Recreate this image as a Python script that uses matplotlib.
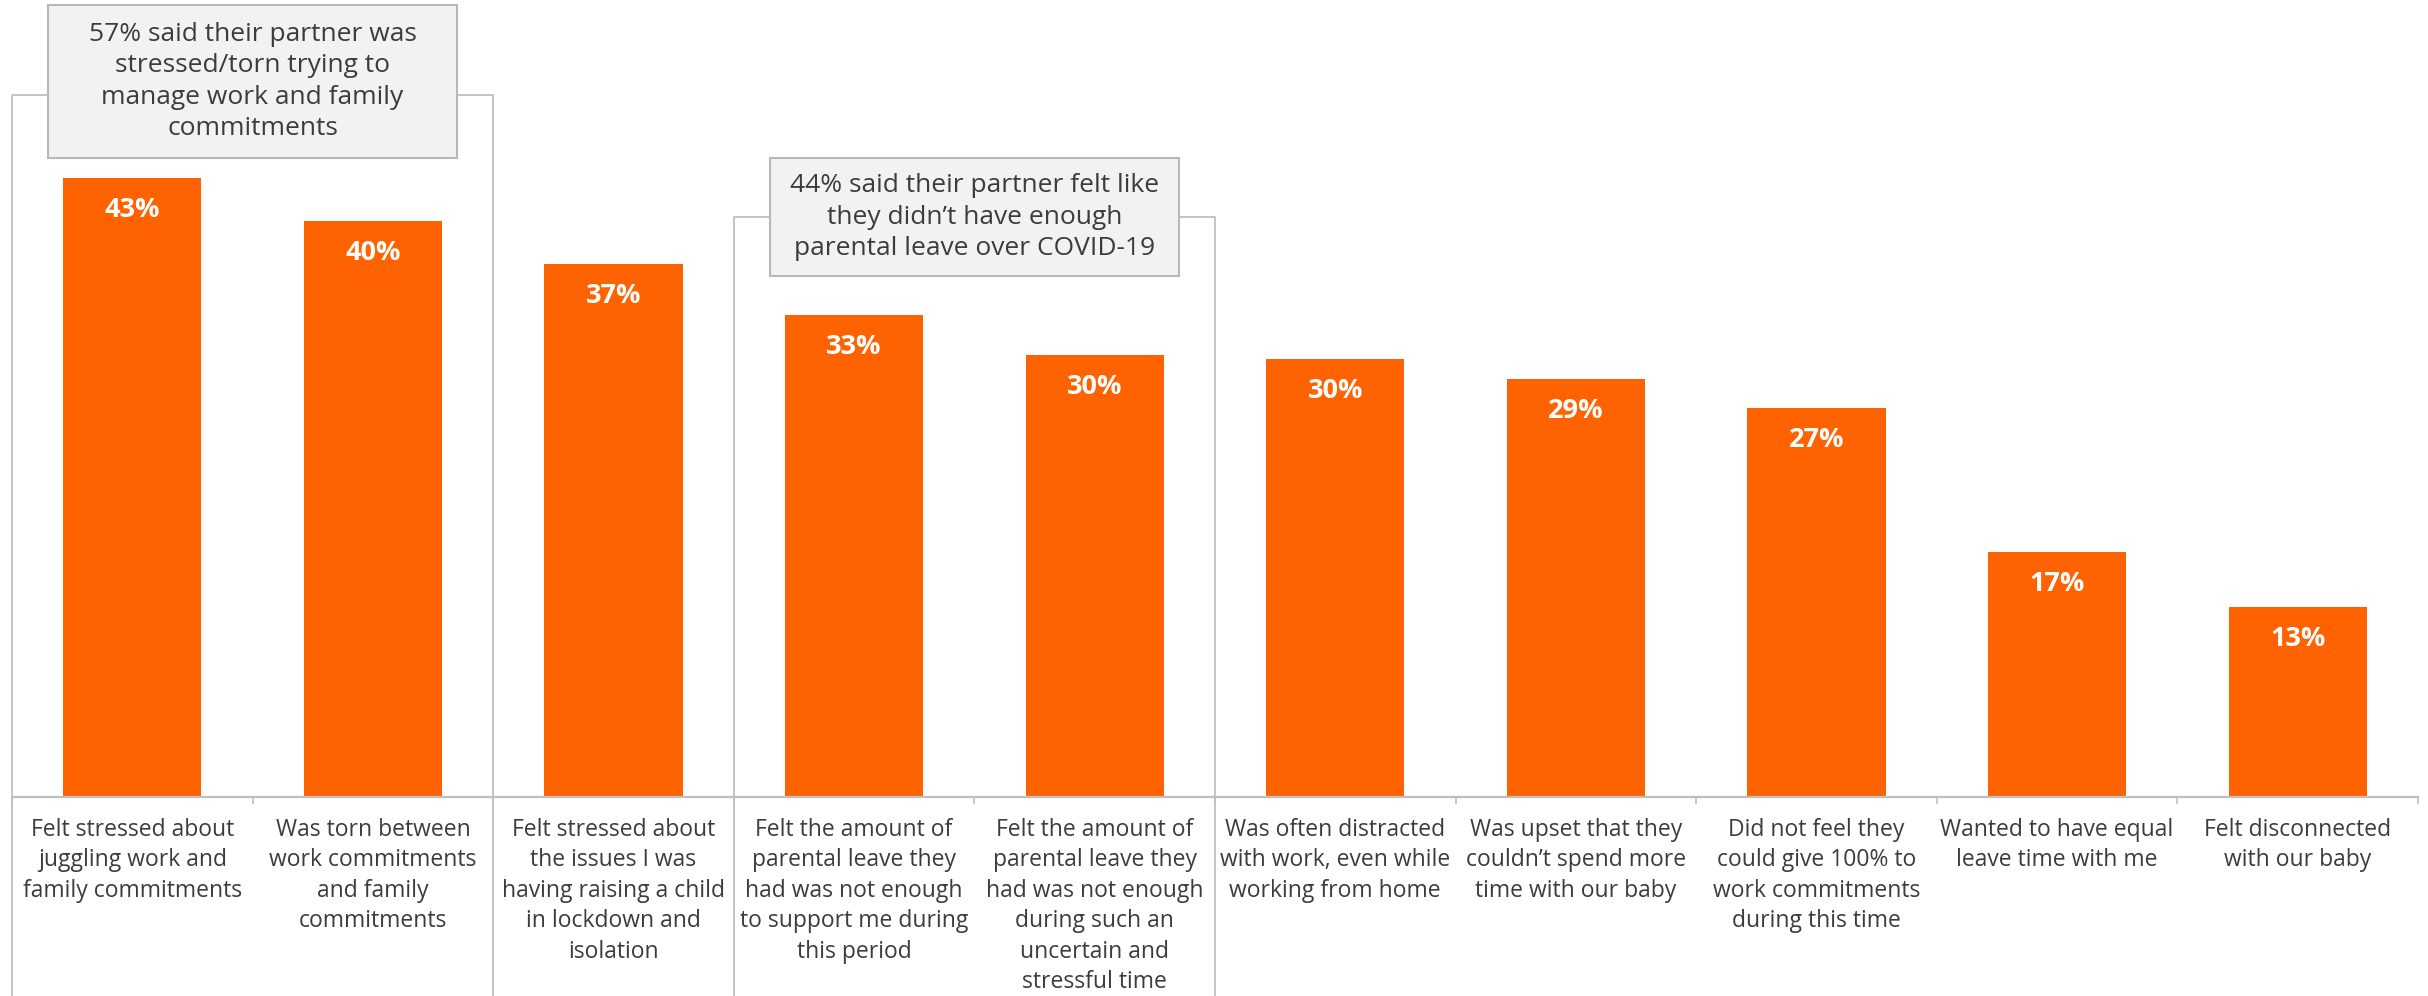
import matplotlib
matplotlib.use("Agg")
import matplotlib.pyplot as plt
from matplotlib.patches import Rectangle
from matplotlib.transforms import blended_transform_factory

plt.rcParams["font.family"] = ["Open Sans", "DejaVu Sans"]

categories = [
    "Felt stressed about\njuggling work and\nfamily commitments",
    "Was torn between\nwork commitments\nand family\ncommitments",
    "Felt stressed about\nthe issues I was\nhaving raising a child\nin lockdown and\nisolation",
    "Felt the amount of\nparental leave they\nhad was not enough\nto support me during\nthis period",
    "Felt the amount of\nparental leave they\nhad was not enough\nduring such an\nuncertain and\nstressful time",
    "Was often distracted\nwith work, even while\nworking from home",
    "Was upset that they\ncouldn\u2019t spend more\ntime with our baby",
    "Did not feel they\ncould give 100% to\nwork commitments\nduring this time",
    "Wanted to have equal\nleave time with me",
    "Felt disconnected\nwith our baby",
]
values = [43, 40, 37, 33.5, 30.7, 30.4, 29, 27, 17, 13.2]
value_labels = ["43%", "40%", "37%", "33%", "30%", "30%", "29%", "27%", "17%", "13%"]

# bracket groups: (first category, last category, callout text)
groups = [
    (0, 1, "57% said their partner was\nstressed/torn trying to\nmanage work and family\ncommitments"),
    (3, 4, "44% said their partner felt like\nthey didn\u2019t have enough\nparental leave over COVID-19"),
]

ORANGE = "#FF6200"
GREY = "#BFBFBF"
TEXT = "#3C3C3C"

W, H = 2428, 996
fig = plt.figure(figsize=(W / 100, H / 100), dpi=100)
ax = fig.add_axes([12 / W, (H - 797) / H, (2418 - 12) / W, 797 / H])

x = list(range(len(values)))
ax.bar(x, values, width=0.574, color=ORANGE, zorder=2)
ax.set_xlim(-0.5, len(values) - 0.5)
ax.set_ylim(0, 797 / 14.4)

for s in ("top", "right", "left"):
    ax.spines[s].set_visible(False)
ax.spines["bottom"].set_color(GREY)
ax.spines["bottom"].set_linewidth(1.6)
ax.set_yticks([])
ax.set_xticks([i - 0.5 for i in range(len(values) + 1)])
ax.set_xticklabels([])
ax.tick_params(axis="x", direction="out", length=5, width=1.2, color=GREY)

for i, (v, lab) in enumerate(zip(values, value_labels)):
    ax.annotate(lab, (i, v), xytext=(0, -23), textcoords="offset points",
                ha="center", va="center", color="white", fontsize=19.5,
                fontweight="bold")

for i, cat in enumerate(categories):
    ax.annotate(cat, (i, 0), xycoords=("data", "axes fraction"),
                xytext=(0, -15), textcoords="offset points",
                ha="center", va="top", color=TEXT, fontsize=16.5,
                linespacing=1.36, annotation_clip=False)

# callout brackets and boxes
tr = blended_transform_factory(ax.transData, fig.transFigure)
line_y = [(H - 95) / H, (H - 217) / H]
box_y = [((H - 158) / H, 153 / H), ((H - 276) / H, 118 / H)]
spacing = [1.32, 1.36]
for (a, b, txt), ly, (by, bh), ls in zip(groups, line_y, box_y, spacing):
    x0, x1 = a - 0.5, b + 0.5
    fig.add_artist(plt.Line2D([x0, x0, x1, x1], [0, ly, ly, 0], transform=tr,
                              color=GREY, lw=1.3, zorder=1))
    cx = (x0 + x1) / 2
    bw = 1.70
    fig.add_artist(Rectangle((cx - bw / 2, by), bw, bh, transform=tr,
                             facecolor="#F2F2F2", edgecolor="#B8B8B8",
                             lw=1.5, zorder=3))
    fig.text(cx, by + bh / 2, txt, transform=tr, ha="center", va="center",
             color=TEXT, fontsize=19, linespacing=ls, zorder=4)

fig.savefig("out.png", dpi=100)
